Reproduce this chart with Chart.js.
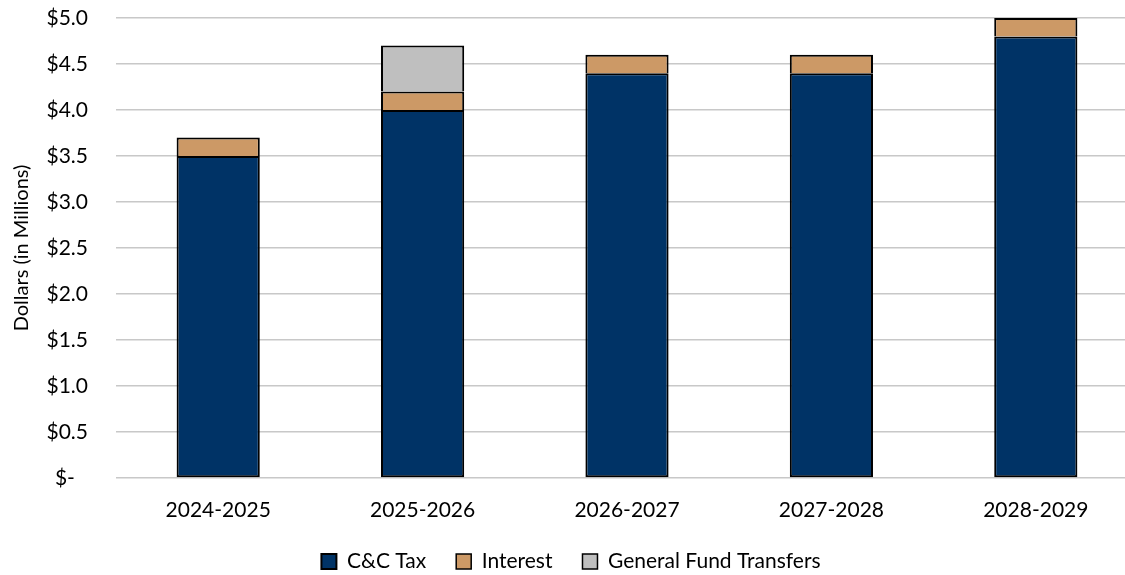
<!DOCTYPE html>
<html>
<head>
<meta charset="utf-8">
<script src="https://cdn.jsdelivr.net/npm/chart.js@4/dist/chart.umd.min.js"></script>
<style>
  html, body { margin: 0; padding: 0; background: #fff; overflow: hidden; }
  #wrap { width: 1138px; height: 575px; position: relative; }
</style>
</head>
<body>
<div id="wrap"><canvas id="fundChart"></canvas></div>
<script>
(function () {
    'use strict';

    // fiscal years on the x axis
    const categories = ['2024-2025', '2025-2026', '2026-2027', '2027-2028', '2028-2029'];

    // millions of dollars, stacked
    const ccTax = [3.5, 4.0, 4.4, 4.4, 4.8];
    const interest = [0.2, 0.2, 0.2, 0.2, 0.2];
    const gfTransfers = [null, 0.5, null, null, null];

    const yTicks = [0, 0.5, 1.0, 1.5, 2.0, 2.5, 3.0, 3.5, 4.0, 4.5, 5.0];

    const FONT = 'Lato, "Open Sans", sans-serif';

    function barSet(label, data, color, isBase) {
        return {
            label: label,
            data: data,
            backgroundColor: color,
            borderColor: '#000000',
            // only the base segment keeps a bottom edge, so joins stay one line thick
            borderWidth: { top: 2, left: 2, right: 2, bottom: isBase ? 2 : 0 },
            borderSkipped: false,
            barPercentage: 0.407,
            categoryPercentage: 1.0
        };
    }

    const ctx = document.getElementById('fundChart').getContext('2d');

    new Chart(ctx, {
        type: 'bar',
        data: {
            labels: categories,
            datasets: [
                barSet('C&C Tax', ccTax, '#003366', true),
                barSet('Interest', interest, '#CC9966', false),
                barSet('General Fund Transfers', gfTransfers, '#BFBFBF', false)
            ]
        },
        options: {
            responsive: true,
            maintainAspectRatio: false,
            animation: false,
            layout: { padding: { top: 18, right: 0, left: 4, bottom: -7 } },
            scales: {
                x: {
                    stacked: true,
                    grid: { display: false, drawTicks: false },
                    border: { display: false },
                    afterFit: scale => { scale.height = 43; },
                    ticks: {
                        color: '#000',
                        font: { family: FONT, size: 21 },
                        padding: 20
                    }
                },
                y: {
                    stacked: true,
                    min: 0,
                    max: 5,
                    afterBuildTicks: scale => {
                        scale.ticks = yTicks.map(v => ({ value: v }));
                    },
                    afterFit: scale => {
                        scale.width = 112;
                        scale.paddingTop = 0;
                        scale.paddingBottom = 0;
                    },
                    grid: {
                        color: '#C8C8C8',
                        lineWidth: 1.5,
                        drawTicks: false
                    },
                    border: { display: false },
                    ticks: {
                        color: '#000',
                        font: { family: FONT, size: 21 },
                        padding: 28,
                        callback: v => v === 0 ? '$-\u2002\u2009' : '$' + v.toFixed(1)
                    },
                    title: {
                        display: true,
                        text: 'Dollars (in Millions)',
                        color: '#000',
                        font: { family: FONT, size: 20 },
                        padding: { top: 6, bottom: 0 }
                    }
                }
            },
            plugins: {
                legend: {
                    position: 'bottom',
                    labels: {
                        color: '#000',
                        font: { family: FONT, size: 21 },
                        boxWidth: 15,
                        boxHeight: 15,
                        padding: 30
                    }
                },
                tooltip: { enabled: false }
            }
        }
    });
})();
</script>
</body>
</html>
